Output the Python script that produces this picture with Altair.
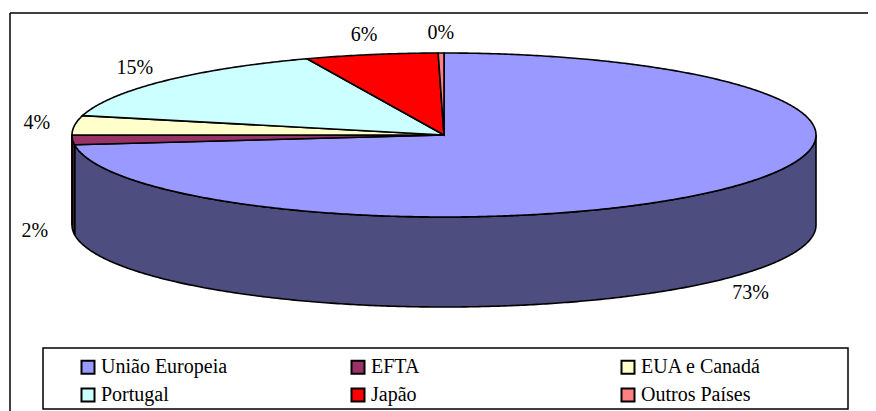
import math
import altair as alt
import pandas as pd

# ---- data ----
categories = ["União Europeia", "EFTA", "EUA e Canadá", "Portugal", "Japão", "Outros Países"]
shares = [73.1, 1.9, 3.8, 15.2, 5.75, 0.25]
top_colors = ["#9999FF", "#993366", "#FFFFCC", "#CCFFFF", "#FF0000", "#FF8080"]
wall_colors = ["#4D4D80", "#4D1A33", "#80806A", "#6A8080", "#800000", "#804040"]

FONT = "Liberation Serif, DejaVu Serif, serif"

# ---- geometry of the tilted pie (view pixels) ----
W, H = 858, 400
CX, CY = 434, 122
RX, RY = 372, 82
DEPTH = 90


def pt(t_deg, dy=0.0):
    t = math.radians(t_deg)
    return [RX * math.sin(t), -RY * math.cos(t) + dy]


def feature(ring, name, wall):
    return {"type": "Feature",
            "properties": {"name": name, "wall": wall},
            "geometry": {"type": "Polygon", "coordinates": [ring]}}


total = sum(shares)
tops, walls, labels = [], [], []
a = 0.0
for name, v, tc, wc in zip(categories, shares, top_colors, wall_colors):
    span = 360.0 * v / total
    a0, a1 = a, a + span
    n = max(2, int(span * 2))
    arc = [pt(a0 + (a1 - a0) * i / n) for i in range(n + 1)]
    tops.append(feature([[0, 0]] + arc + [[0, 0]], name, wc))
    w0, w1 = max(a0, 90.0), min(a1, 270.0)
    if w1 > w0:
        m = max(2, int((w1 - w0) * 2))
        upper = [pt(w0 + (w1 - w0) * i / m) for i in range(m + 1)]
        lower = [pt(w0 + (w1 - w0) * i / m, DEPTH) for i in range(m, -1, -1)]
        walls.append(feature(upper + lower + [upper[0]], name, wc))
    mid = math.radians((a0 + a1) / 2)
    lx = (RX + 38) * math.sin(mid)
    ly = -(RY + 20) * math.cos(mid) + (DEPTH if math.cos(mid) < 0 else 0)
    labels.append({"lx": lx, "ly": ly, "txt": f"{round(v)}%"})
    a = a1

# legend is filled column by column (2 rows x 3 columns) -> reorder so it reads row-wise
cols = 3
rows = math.ceil(len(categories) / cols)
legend_idx = [r * cols + c for c in range(cols) for r in range(rows) if r * cols + c < len(categories)]
legend_domain = [categories[i] for i in legend_idx]
legend_range = [top_colors[i] for i in legend_idx]

proj = dict(type="identity", scale=1, translate=[CX, CY])
dummy = pd.DataFrame({"k": [0]})

frame_left = alt.Chart(dummy).mark_rule(color="black", strokeWidth=1.5).encode(
    x=alt.value(0), y=alt.value(0), y2=alt.value(H))
frame_top = alt.Chart(dummy).mark_rule(color="black", strokeWidth=1.5).encode(
    y=alt.value(0), x=alt.value(0), x2=alt.value(W))

legend_box = alt.Chart(dummy).mark_rect(fill="white", stroke="black", strokeWidth=1.5).encode(
    x=alt.value(33), x2=alt.value(838), y=alt.value(335), y2=alt.value(396))

walls_chart = alt.Chart(alt.InlineData(
    values={"type": "FeatureCollection", "features": walls},
    format=alt.DataFormat(property="features", type="json"))).mark_geoshape(
    stroke="black", strokeWidth=1.6).encode(
    fill=alt.Fill("properties.wall:N", scale=None)).project(**proj)

tops_chart = alt.Chart(alt.InlineData(
    values={"type": "FeatureCollection", "features": tops},
    format=alt.DataFormat(property="features", type="json"))).mark_geoshape(
    stroke="black", strokeWidth=1.6).encode(
    color=alt.Color("properties.name:N",
                    scale=alt.Scale(domain=legend_domain, range=legend_range),
                    legend=alt.Legend(title=None, orient="none", legendX=68, legendY=344,
                                      columns=cols, columnPadding=119, rowPadding=6,
                                      gridAlign="all", symbolType="square", symbolSize=169,
                                      symbolStrokeColor="black", symbolStrokeWidth=2,
                                      symbolOpacity=1, labelFont=FONT,
                                      labelFontSize=20, labelColor="black", labelOffset=3,
                                      labelLimit=400, padding=0))).project(**proj)

text_chart = alt.Chart(pd.DataFrame(labels)).mark_text(
    font=FONT, fontSize=20, color="black").encode(
    longitude="lx:Q", latitude="ly:Q", text="txt:N").project(**proj)

chart = alt.layer(frame_left, frame_top, legend_box, walls_chart, tops_chart, text_chart).properties(
    width=W, height=H, autosize="none",
    padding={"left": 2, "top": 5, "right": 0, "bottom": 0},
    background="white").configure_view(strokeWidth=0)

chart.save("out.html", embed_options={"renderer": "svg", "actions": False})
